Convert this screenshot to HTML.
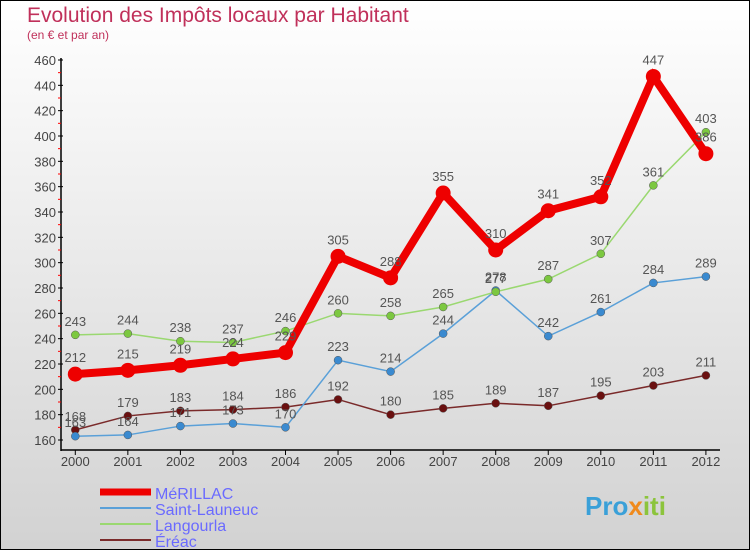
<!DOCTYPE html>
<html><head><meta charset="utf-8"><style>
body{margin:0}
#wrap{width:750px;height:550px;position:relative;box-sizing:border-box;border:1px solid #000;background:linear-gradient(#ffffff,#d2d2d2);font-family:"Liberation Sans",sans-serif;overflow:hidden}
</style></head><body>
<div id="wrap">
<svg id="chart" width="750" height="550" style="position:absolute;left:-1px;top:-1px">
<text x="27" y="22" font-size="21" fill="#c0305a" font-weight="normal">Evolution des Impôts locaux par Habitant</text>
<text x="27" y="39" font-size="12" fill="#c0305a">(en € et par an)</text>
<g id="axes"></g><g id="series"></g>
<g id="legend"></g>
<text x="585" y="515" font-size="26" font-weight="bold" fill="#3aa0d8">Pro<tspan fill="#f08a1c">x</tspan><tspan fill="#8cc43c">iti</tspan></text>
</svg>
</div>
<script>
const years=["2000","2001","2002","2003","2004","2005","2006","2007","2008","2009","2010","2011","2012"];
const yTicks=[160,180,200,220,240,260,280,300,320,340,360,380,400,420,440,460];
const merillac=[212,215,219,224,229,305,288,355,310,341,352,447,386];
const saintLauneuc=[163,164,171,173,170,223,214,244,278,242,261,284,289];
const langourla=[243,244,238,237,246,260,258,265,277,287,307,361,403];
const ereac=[168,179,183,184,186,192,180,185,189,187,195,203,211];
const NS="http://www.w3.org/2000/svg";
const xs=i=>75.3+i*52.55;
const ys=v=>440-(v-160)*1.2667;
function mk(t,a,p){const e=document.createElementNS(NS,t);for(const k in a)e.setAttribute(k,a[k]);p.appendChild(e);return e;}
const ax=document.getElementById('axes');
let l=mk('line',{x1:61,y1:58,x2:61,y2:451,stroke:'#000','stroke-width':1.5},ax);


l=mk('line',{x1:61,y1:450,x2:720,y2:450,stroke:'#000','stroke-width':1.5},ax);


yTicks.forEach((v,i)=>{const y=ys(v);
 mk('line',{x1:58,y1:y,x2:63,y2:y,stroke:'#000'},ax);
 if(i<yTicks.length-1)mk('line',{x1:58,y1:y-12.67,x2:61,y2:y-12.67,stroke:'#f00'},ax);
 const t=mk('text',{x:56,y:y+5,'font-size':13,fill:'#444','text-anchor':'end'},ax);t.textContent=v;
 
 });
years.forEach((yr,i)=>{const x=xs(i);
 mk('line',{x1:x,y1:450,x2:x,y2:455,stroke:'#000'},ax);
 const t=mk('text',{x:x,y:466,'font-size':13,fill:'#444','text-anchor':'middle'},ax);t.textContent=yr;
 
 });
const series=[
 {name:'ereac',label:'Éréac',d:ereac,c:'#7a2a2a',dot:'#6a1010',w:1.5,r:4},
 {name:'saint-launeuc',label:'Saint-Launeuc',d:saintLauneuc,c:'#5aa0d8',dot:'#3a8ad0',w:1.5,r:4},
 {name:'langourla',label:'Langourla',d:langourla,c:'#9ad870',dot:'#7cc840',w:1.5,r:4},
 {name:'merillac',label:'MéRILLAC',d:merillac,c:'#ee0000',dot:'#ee0000',w:8,r:7.5}];
const sg=document.getElementById('series');
series.forEach(s=>{const g=mk('g',{},sg);
 
 
 const pl=mk('polyline',{points:s.d.map((v,i)=>xs(i)+','+ys(v)).join(' '),fill:'none',stroke:s.c,'stroke-width':s.w},g);
 
 
 s.d.forEach((v,i)=>{const c=mk('circle',{cx:xs(i),cy:ys(v),r:s.r,fill:s.dot,stroke:s.w>2?'none':'#555','stroke-width':0.5},g);
  
  
  const t=mk('text',{x:xs(i),y:ys(v)-(s.w>2?12:9),'font-size':13,fill:'#555','text-anchor':'middle'},g);t.textContent=v;
  
  });});
const lg=document.getElementById('legend');
[series[3],series[1],series[2],series[0]].forEach((s,i)=>{const y=492+i*16;
 const li=mk('line',{x1:100,y1:y,x2:151,y2:y,stroke:s.c,'stroke-width':s.w>2?7:2},lg);
 
 
 const t=mk('text',{x:155,y:y+7,'font-size':16,fill:'#6a6aff'},lg);t.textContent=s.label;
 
 });
</script>
</body></html>
